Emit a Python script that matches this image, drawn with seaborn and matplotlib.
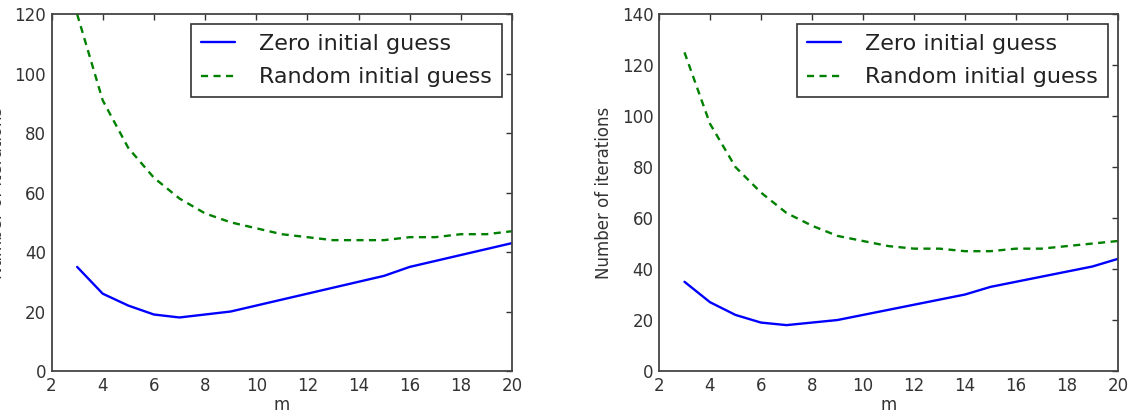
import matplotlib
matplotlib.use("Agg")
import matplotlib.pyplot as plt
import seaborn as sns
import pandas as pd

m = list(range(3, 21))
zero_left = [35, 26, 22, 19, 18, 19, 20, 22, 24, 26, 28, 30, 32, 35, 37, 39, 41, 43]
rand_left = [120, 91, 75, 65, 58, 53, 50, 48, 46, 45, 44, 44, 44, 45, 45, 46, 46, 47]
zero_right = [35, 27, 22, 19, 18, 19, 20, 22, 24, 26, 28, 30, 33, 35, 37, 39, 41, 44]
rand_right = [125, 97, 80, 70, 62, 57, 53, 51, 49, 48, 48, 47, 47, 48, 48, 49, 50, 51]

labels = ["Zero initial guess", "Random initial guess"]
xlabel = "m"
ylabel = "Number of iterations"

sns.set_style("white")
plt.rcParams.update({
    "font.family": ["DejaVu Sans"],
    "xtick.direction": "in", "ytick.direction": "in",
    "xtick.top": True, "ytick.right": True,
    "xtick.major.size": 4, "ytick.major.size": 4,
    "xtick.major.width": 1, "ytick.major.width": 1,
    "xtick.color": "#333333", "ytick.color": "#333333",
    "axes.edgecolor": "#444444", "axes.linewidth": 1.3,
})

fig = plt.figure(figsize=(11.28, 4.15), dpi=100)
ax1 = fig.add_axes([0.0457, 0.106, 0.4082, 0.860])
ax2 = fig.add_axes([0.5842, 0.106, 0.4069, 0.860])

for ax, z, r, ymax in [(ax1, zero_left, rand_left, 120), (ax2, zero_right, rand_right, 140)]:
    dz = pd.DataFrame({"m": m, "v": z})
    dr = pd.DataFrame({"m": m, "v": r})
    sns.lineplot(data=dz, x="m", y="v", ax=ax, color=(0, 0, 1), linewidth=1.7, label=labels[0])
    sns.lineplot(data=dr, x="m", y="v", ax=ax, color=(0, 0.5, 0), linewidth=1.7,
                 linestyle=(0, (3.0, 2.3)), label=labels[1])
    ax.set_xlim(2, 20)
    ax.set_ylim(0, ymax)
    ax.set_xticks(range(2, 21, 2))
    ax.set_yticks(range(0, ymax + 1, 20))
    ax.tick_params(labelsize=12, pad=4, colors="#333333")
    ax.set_xlabel(xlabel, fontsize=12, color="#333333", labelpad=1)
    ax.set_ylabel(ylabel, fontsize=12, color="#333333", labelpad=6)
    leg = ax.legend(loc="upper right", fontsize=16, frameon=True, fancybox=False,
                    framealpha=1, edgecolor="#333333", borderaxespad=0.45,
                    handlelength=1.5, handletextpad=1.1, borderpad=0.45,
                    labelspacing=0.6)
    leg.get_frame().set_linewidth(1.2)
    for t in leg.get_texts():
        t.set_color("#222222")

fig.savefig("out.png", dpi=100)
